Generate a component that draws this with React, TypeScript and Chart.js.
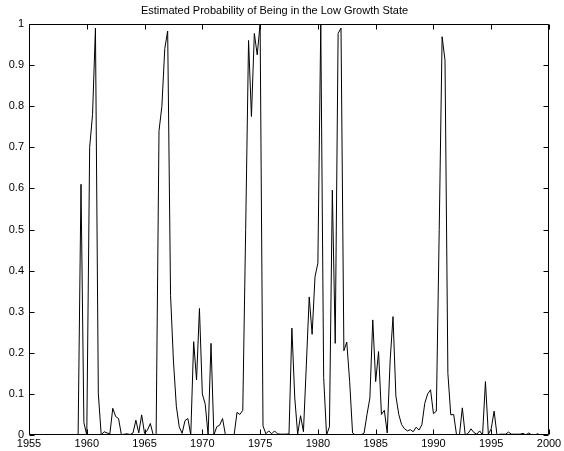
import React, { useEffect, useRef } from "react";
import { Chart, registerables } from "chart.js";

Chart.register(...registerables);

const TITLE = "Estimated Probability of Being in the Low Growth State";
const START_YEAR = 1959;
const PERIODS_PER_YEAR = 4;
const X_MIN = 1955;
const X_MAX = 2000;
const X_STEP = 5;
const Y_MIN = 0;
const Y_MAX = 1;
const Y_STEP = 0.1;

// quarterly probabilities, 1959Q1 .. 1999Q2
const probLow = [
  0, 0, 0.61, 0.03,
  0.0, 0.7, 0.78, 0.99,
  0.1, 0.0, 0.008, 0.005,
  0.003, 0.065, 0.045, 0.04,
  0.0, 0.002, 0.003, 0.001,
  0.005, 0.036, 0.005, 0.049,
  0.004, 0.012, 0.028, 0.0,
  0.0, 0.74, 0.8, 0.94,
  0.983, 0.34, 0.18, 0.07,
  0.02, 0.004, 0.035, 0.04,
  0.0, 0.227, 0.134, 0.308,
  0.1, 0.075, 0.0, 0.223,
  0.0, 0.02, 0.024, 0.04,
  0.0, 0.0, 0.0, 0.0,
  0.055, 0.05, 0.06, 0.5,
  0.96, 0.775, 0.977, 0.925,
  1.0, 0.022, 0.003, 0.01,
  0.003, 0.01, 0.003, 0.002,
  0.002, 0.002, 0.003, 0.26,
  0.09, 0.002, 0.047, 0.008,
  0.17, 0.336, 0.245, 0.385,
  0.418, 1.0, 0.14, 0.0,
  0.02, 0.596, 0.223, 0.977,
  0.99, 0.205, 0.226, 0.13,
  0.005, 0.0, 0.0, 0.0,
  0.005, 0.05, 0.09, 0.28,
  0.13, 0.203, 0.05, 0.06,
  0.005, 0.18, 0.288, 0.095,
  0.05, 0.025, 0.015, 0.01,
  0.013, 0.008, 0.019, 0.012,
  0.025, 0.077, 0.1, 0.11,
  0.052, 0.058, 0.5, 0.969,
  0.912, 0.15, 0.049, 0.05,
  0.0, 0.0, 0.066, 0.0,
  0.004, 0.015, 0.006, 0.002,
  0.01, 0.0, 0.13, 0.002,
  0.015, 0.058, 0.0, 0.002,
  0.002, 0.002, 0.007, 0.002,
  0.002, 0.002, 0.002, 0.004,
  0.0, 0.005, 0.0, 0.0,
  0.003, 0.0,
];

const FONT_FAMILY = "'Liberation Sans', Arial, Helvetica, sans-serif";

const boxPlugin = {
  id: "matlabBox",
  afterDatasetsDraw(chart: any) {
    const { ctx, chartArea: a, scales } = chart;
    const L = Math.round(a.left) + 0.5;
    const R = Math.round(a.right) - 0.5;
    const T = Math.round(a.top) + 0.5;
    const B = Math.round(a.bottom) - 0.5;
    const len = 5;
    ctx.save();
    ctx.strokeStyle = "#000";
    ctx.lineWidth = 1;
    ctx.beginPath();
    ctx.rect(L, T, R - L, B - T);
    for (const t of scales.x.ticks) {
      const px = Math.round(scales.x.getPixelForValue(t.value)) + 0.5;
      ctx.moveTo(px, B);
      ctx.lineTo(px, B - len);
      ctx.moveTo(px, T);
      ctx.lineTo(px, T + len);
    }
    for (const t of scales.y.ticks) {
      const py = Math.round(scales.y.getPixelForValue(t.value)) + 0.5;
      ctx.moveTo(L, py);
      ctx.lineTo(L + len, py);
      ctx.moveTo(R, py);
      ctx.lineTo(R - len, py);
    }
    ctx.stroke();
    ctx.restore();
  },
};

export default function App() {
  const ref = useRef<HTMLCanvasElement | null>(null);

  useEffect(() => {
    document.body.style.margin = "0";
    const canvas = ref.current;
    if (!canvas) return;
    const data = probLow.map((v, i) => ({
      x: START_YEAR + i / PERIODS_PER_YEAR,
      y: v,
    }));
    const chart = new Chart(canvas, {
      type: "line",
      data: {
        datasets: [
          {
            data,
            borderColor: "#000",
            borderWidth: 1,
            pointRadius: 0,
            tension: 0,
            fill: false,
          },
        ],
      },
      options: {
        responsive: false,
        animation: false,
        devicePixelRatio: 1,
        layout: { padding: { left: 0, right: 15, top: 0, bottom: 0 } },
        plugins: {
          legend: { display: false },
          tooltip: { enabled: false },
          title: {
            display: true,
            text: TITLE,
            color: "#000",
            font: { family: FONT_FAMILY, size: 11, weight: "normal" },
            padding: { top: 4, bottom: 6.8 },
          },
        },
        scales: {
          x: {
            type: "linear",
            min: X_MIN,
            max: X_MAX,
            grid: { display: false, drawTicks: false, tickLength: 0 },
            border: { display: false },
            ticks: {
              stepSize: X_STEP,
              color: "#000",
              font: { family: FONT_FAMILY, size: 11 },
              padding: 2,
              maxRotation: 0,
              autoSkip: false,
              callback: (v: any) => String(v),
            },
            afterFit: (s: any) => {
              s.height = 16;
            },
          },
          y: {
            type: "linear",
            min: Y_MIN,
            max: Y_MAX,
            grid: { display: false, drawTicks: false, tickLength: 0 },
            border: { display: false },
            ticks: {
              stepSize: Y_STEP,
              color: "#000",
              font: { family: FONT_FAMILY, size: 11 },
              padding: 5,
              autoSkip: false,
              callback: (v: any) => String(Math.round(Number(v) * 10) / 10),
            },
            afterFit: (s: any) => {
              s.width = 29;
            },
          },
        },
      },
      plugins: [boxPlugin],
    });
    return () => chart.destroy();
  }, []);

  return (
    <div style={{ position: "absolute", left: 0, top: 0, width: 564, height: 451, background: "#fff" }}>
      <canvas ref={ref} width={564} height={451} />
    </div>
  );
}
